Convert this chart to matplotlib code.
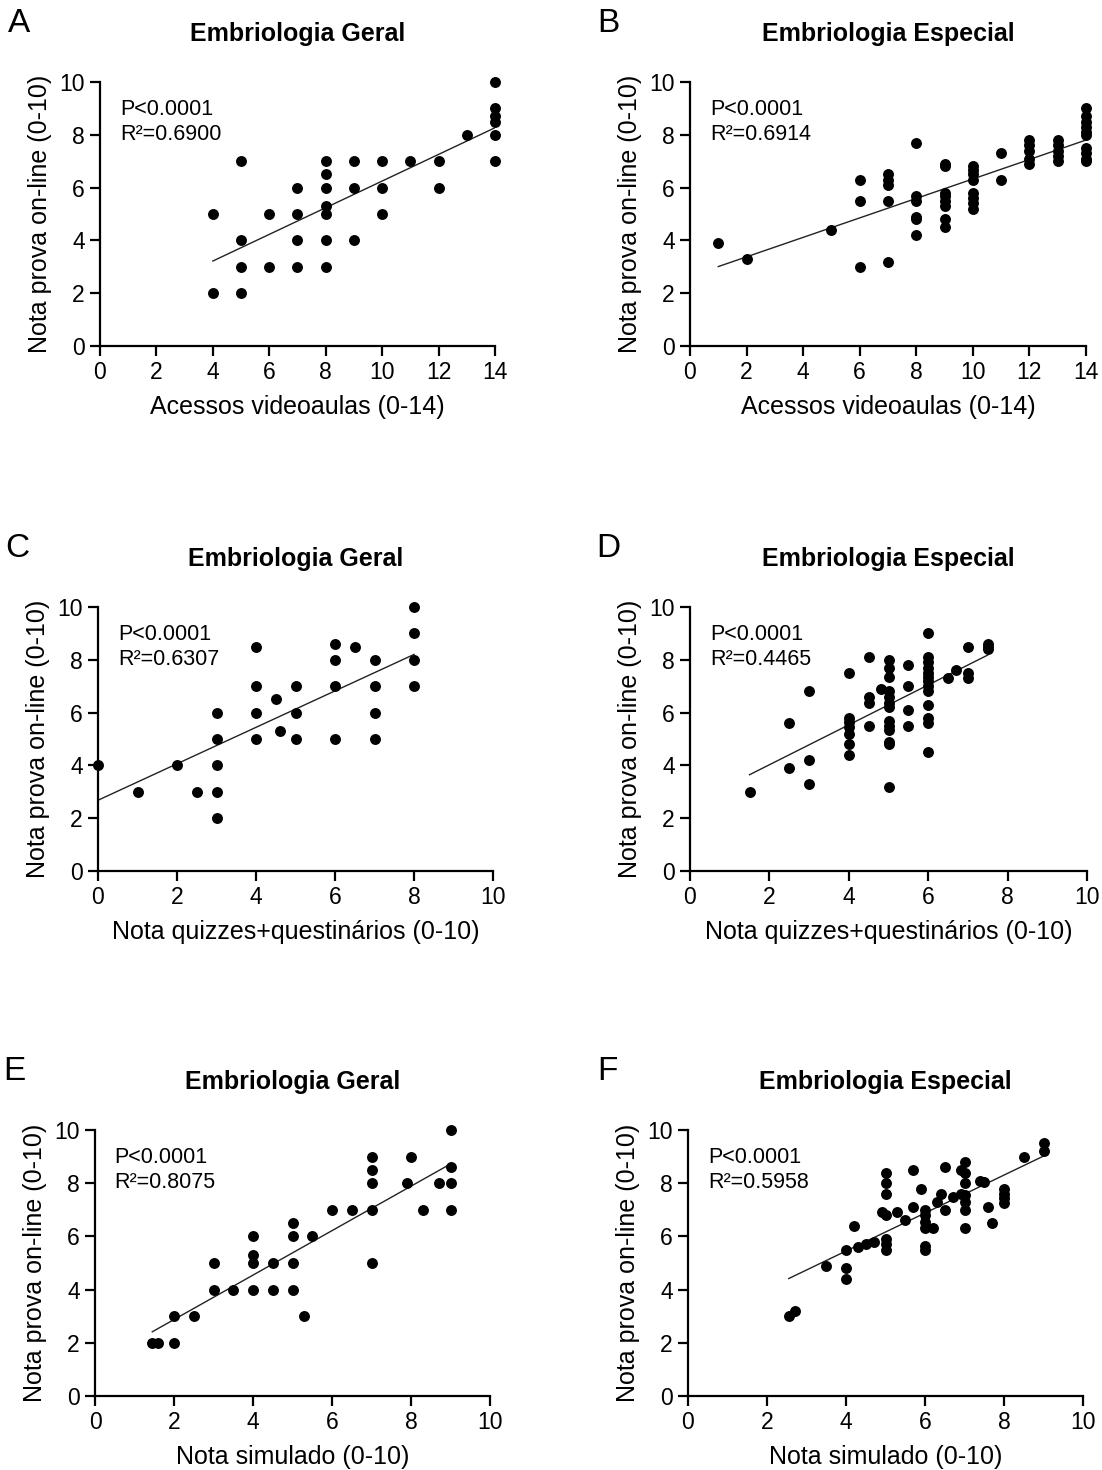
import numpy as np
import matplotlib
matplotlib.use('Agg')
import matplotlib.pyplot as plt

plt.rcParams['font.family'] = ['Liberation Sans', 'DejaVu Sans']

# ---- data ----
a_x = [4, 4, 5, 5, 5, 5, 6, 6, 7, 7, 7, 7, 8, 8, 8, 8, 8, 8, 8, 9, 9, 9,
       10, 10, 10, 11, 12, 12, 13, 14, 14, 14, 14, 14, 14]
a_y = [5, 2, 7, 4, 3, 2, 5, 3, 6, 5, 4, 3, 7, 6.5, 6, 5.3, 5, 4, 3, 7, 6, 4,
       7, 6, 5, 7, 7, 6, 8, 10, 9, 8.7, 8.5, 8, 7]

b_x = [1, 2, 5, 6, 6, 6, 7, 7, 7, 7, 7, 8, 8, 8, 8, 8, 8,
       9, 9, 9, 9, 9, 9, 9, 9, 10, 10, 10, 10, 10, 10, 10, 10, 11, 11,
       12, 12, 12, 12, 12, 13, 13, 13, 13, 13,
       14, 14, 14, 14, 14, 14, 14, 14, 14, 14]
b_y = [3.9, 3.3, 4.4, 6.3, 5.5, 3.0, 6.5, 6.3, 6.1, 5.5, 3.2, 7.7, 5.7, 5.5, 4.9, 4.8, 4.2,
       6.9, 6.8, 5.8, 5.7, 5.5, 5.3, 4.8, 4.5, 6.8, 6.65, 6.5, 6.3, 5.8, 5.6, 5.4, 5.2, 7.3, 6.3,
       7.8, 7.6, 7.4, 7.1, 6.9, 7.8, 7.6, 7.4, 7.2, 7.0,
       9.0, 8.7, 8.5, 8.3, 8.1, 8.0, 7.5, 7.3, 7.1, 7.0]

c_x = [0, 1, 2, 2.5, 3, 3, 3, 3, 3, 4, 4, 4, 4, 4.5, 4.6, 5, 5, 5,
       6, 6, 6, 6, 6.5, 7, 7, 7, 7, 8, 8, 8, 8]
c_y = [4, 3, 4, 3, 6, 5, 4, 3, 2, 8.5, 7, 6, 5, 6.5, 5.3, 7, 6, 5,
       8.6, 8, 7, 5, 8.5, 8, 7, 6, 5, 10, 9, 8, 7]

d_x = [1.5, 2.5, 2.5, 3, 3, 3,
       4, 4, 4, 4, 4, 4, 4, 4.5, 4.5, 4.5, 4.5, 4.8,
       5, 5, 5, 5, 5, 5, 5, 5, 5, 5, 5, 5, 5,
       5.5, 5.5, 5.5, 5.5,
       6, 6, 6, 6, 6, 6, 6, 6, 6, 6, 6, 6, 6,
       6.5, 6.7, 7, 7, 7, 7.5, 7.5, 7.5]
d_y = [3.0, 3.9, 5.6, 6.8, 4.2, 3.3,
       7.5, 5.8, 5.65, 5.45, 5.2, 4.8, 4.4, 8.1, 6.6, 6.35, 5.5, 6.9,
       8.0, 7.7, 7.35, 6.8, 6.6, 6.35, 6.2, 5.7, 5.5, 5.35, 4.9, 4.8, 3.2,
       7.8, 7.0, 6.1, 5.5,
       9.0, 8.1, 7.9, 7.7, 7.5, 7.35, 7.2, 7.0, 6.8, 6.3, 5.8, 5.6, 4.5,
       7.3, 7.6, 8.5, 7.5, 7.3, 8.6, 8.5, 8.4]

e_x = [1.45, 1.6, 2, 2, 2.5, 3, 3, 3.5, 4, 4, 4, 4, 4.5, 4.5, 5, 5, 5, 5,
       5.3, 5.5, 6, 6.5, 7, 7, 7, 7, 7, 7.9, 8, 8.3, 8.7, 9, 9, 9, 9]
e_y = [2, 2, 2, 3, 3, 5, 4, 4, 6, 5.3, 5, 4, 5, 4, 6.5, 6, 5, 4,
       3, 6, 7, 7, 9, 8.5, 8, 7, 5, 8, 9, 7, 8, 10, 8.6, 8, 7]

f_x = [2.55, 2.7, 3.5, 4.0, 4.0, 4.0, 4.2, 4.3, 4.5, 4.7,
       5.0, 5.0, 5.0, 4.9, 5.0, 5.0, 5.0, 5.0,
       5.3, 5.5, 5.7, 5.7, 5.9,
       6.0, 6.0, 6.0, 6.0, 6.2, 6.0, 6.0,
       6.3, 6.4, 6.5, 6.5, 6.7,
       6.9, 7.0, 7.0, 7.0, 6.9, 7.0, 7.0, 7.0, 7.0,
       7.4, 7.5, 7.6, 7.7, 8.0, 8.0, 8.0, 8.0, 8.5, 9.0, 9.0]
f_y = [3.0, 3.2, 4.9, 5.5, 4.8, 4.4, 6.4, 5.6, 5.7, 5.8,
       8.4, 8.0, 7.6, 6.9, 6.8, 5.9, 5.7, 5.5,
       6.9, 6.6, 8.5, 7.1, 7.8,
       7.0, 6.8, 6.55, 6.3, 6.3, 5.65, 5.5,
       7.3, 7.6, 8.6, 7.0, 7.5,
       8.5, 8.8, 8.4, 8.0, 7.6, 7.55, 7.3, 7.0, 6.3,
       8.1, 8.05, 7.1, 6.5, 7.8, 7.6, 7.45, 7.25, 9.0, 9.5, 9.2]

letters = ['A', 'B', 'C', 'D', 'E', 'F']
titles = ['Embriologia Geral', 'Embriologia Especial'] * 3
xlabels = ['Acessos videoaulas (0-14)'] * 2 + ['Nota quizzes+questinários (0-10)'] * 2 + ['Nota simulado (0-10)'] * 2
ylabel = 'Nota prova on-line (0-10)'
r2_txt = ['0.6900', '0.6914', '0.6307', '0.4465', '0.8075', '0.5958']
xmax = [14, 14, 10, 10, 10, 10]
xs = [a_x, b_x, c_x, d_x, e_x, f_x]
ys = [a_y, b_y, c_y, d_y, e_y, f_y]

W, H = 1102, 1470
# axes boxes in pixels: left, right, top, bottom
boxes = [(100, 495, 82, 346), (690, 1086, 82, 346),
         (98, 493, 607, 871), (690, 1087, 607, 871),
         (95, 490, 1130, 1396), (688, 1083, 1130, 1396)]

fig = plt.figure(figsize=(W / 100, H / 100), dpi=100)

for i in range(6):
    l, r, t, b = boxes[i]
    ax = fig.add_axes([l / W, 1 - b / H, (r - l) / W, (b - t) / H])
    x = np.array(xs[i], dtype=float)
    y = np.array(ys[i], dtype=float)
    ax.scatter(x, y, s=62, color='black', zorder=3, clip_on=False, linewidths=0)
    k, c0 = np.polyfit(x, y, 1)
    xx = np.array([x.min(), x.max()])
    ax.plot(xx, k * xx + c0, color='#222222', lw=1.0, zorder=2)

    ax.set_xlim(0, xmax[i])
    ax.set_ylim(0, 10)
    ax.set_xticks(np.arange(0, xmax[i] + 1, 2))
    ax.set_yticks(np.arange(0, 11, 2))
    for s in ['top', 'right']:
        ax.spines[s].set_visible(False)
    for s in ['left', 'bottom']:
        ax.spines[s].set_linewidth(1.6)
    ax.tick_params(length=7, width=1.6, labelsize=16.5, pad=4, direction='out')
    ax.set_xlabel(xlabels[i], fontsize=18, labelpad=8)
    ax.set_ylabel(ylabel, fontsize=18, labelpad=5)
    ax.text(0.05, 0.935, 'P<0.0001\nR²=' + r2_txt[i], transform=ax.transAxes,
            ha='left', va='top', fontsize=15.5, linespacing=1.25)
    ax.text(0.5, 1.18, titles[i], transform=ax.transAxes, ha='center', va='center',
            fontsize=18, fontweight='bold')
    ax.text(-0.205, 1.22, letters[i], transform=ax.transAxes, ha='center', va='center',
            fontsize=24)

fig.savefig('out.png', dpi=100)
